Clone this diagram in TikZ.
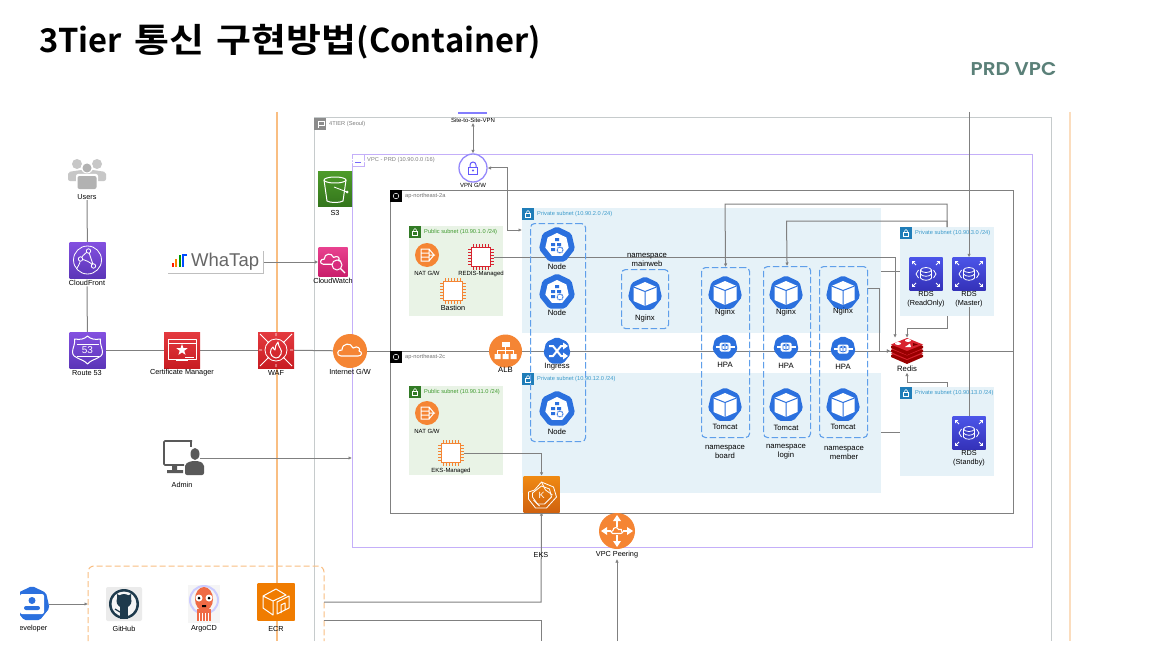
\documentclass[tikz,border=0pt]{standalone}
\usepackage{fontspec}
\setmainfont{Liberation Sans}
\newfontfamily\titlefont{Noto Sans CJK KR}[BoldFont={Noto Sans CJK KR Bold}]
\newfontfamily\hangulfont{Noto Sans CJK KR}[BoldFont={Noto Sans CJK KR Bold},FakeStretch=1.13]
\newfontfamily\vpcfont{Poppins}[BoldFont={Poppins SemiBold},FakeStretch=1.08]
\usetikzlibrary{arrows.meta,backgrounds,shapes.geometric}

\definecolor{linegray}{HTML}{808080}
\definecolor{tiergray}{HTML}{C6CBCC}
\definecolor{vpcpurple}{HTML}{C4AFF9}
\definecolor{orangeline}{HTML}{F9BE82}
\definecolor{paleorange}{HTML}{FBDDBE}
\definecolor{pubgreen}{HTML}{E9F3E6}
\definecolor{pubtext}{HTML}{3F9A2F}
\definecolor{privblue}{HTML}{E6F2F8}
\definecolor{privtext}{HTML}{3C9BCB}
\definecolor{privtag}{HTML}{1F7DB8}
\definecolor{kubeblue}{HTML}{2B70DE}
\definecolor{dashblue}{HTML}{5F9FEA}
\definecolor{awsorange}{HTML}{F58534}
\definecolor{awsred}{HTML}{D8232F}
\definecolor{rdsblue}{HTML}{3B3FC8}
\definecolor{cfpurple}{HTML}{6F42D0}
\definecolor{vpcgreen}{HTML}{5A8078}
\definecolor{ghnavy}{HTML}{1E3A4C}
\definecolor{argored}{HTML}{EF6B45}
\definecolor{cwpink}{HTML}{D92B7D}
\definecolor{cftop}{HTML}{8350E0}
\definecolor{cfbot}{HTML}{5B35B8}
\definecolor{redtop}{HTML}{E43A3F}
\definecolor{redbot}{HTML}{C81C22}
\definecolor{s3top}{HTML}{4D9A2A}
\definecolor{s3bot}{HTML}{34761C}
\definecolor{cwtop}{HTML}{E8418F}
\definecolor{cwbot}{HTML}{C91E6B}
\definecolor{rdstop}{HTML}{4B55E8}
\definecolor{rdsbot}{HTML}{3431B8}
\definecolor{ekstop}{HTML}{F08A12}
\definecolor{eksbot}{HTML}{D0620F}
\definecolor{ecrorange}{HTML}{F07C00}

\tikzset{
  link/.style={draw=linegray,line width=1pt},
  arrowlink/.style={link,-{Latex[length=3.5pt,width=3.5pt]}},
  bothlink/.style={link,{Latex[length=3.5pt,width=3.5pt]}-{Latex[length=3.5pt,width=3.5pt]}},
  zonebox/.style={draw=#1,line width=1pt,fill=none,anchor=north west,inner sep=0pt},
  subnetbox/.style={fill=#1,anchor=north west,inner sep=0pt},
  nsbox/.style={draw=dashblue,line width=1.1pt,dash pattern=on 6.5pt off 2.6pt,rounded corners=4pt,anchor=north west,inner sep=0pt},
  tagbox/.style={fill=#1,minimum size=12pt,inner sep=0pt,anchor=north west},
  zonetext/.style={text=#1,font=\fontsize{5.7}{6}\selectfont,anchor=west,inner sep=0pt},
  lbl/.style={font=\fontsize{7.3}{8.6}\selectfont,text=black,inner sep=0.5pt,align=center},
  tinylbl/.style={font=\fontsize{6}{7}\selectfont,text=black,inner sep=0.5pt,align=center},
  biglbl/.style={font=\fontsize{7.7}{9}\selectfont,text=black,inner sep=0.5pt,align=center},
  sqicon/.style 2 args={top color=#1,bottom color=#2,minimum size=36pt,inner sep=0pt},
  roundicon/.style={circle,fill=awsorange,inner sep=0pt,minimum size=#1},
  kubeicon/.style={regular polygon,regular polygon sides=7,fill=kubeblue,rounded corners=2pt,inner sep=0pt,minimum size=#1},
  plainicon/.style={inner sep=0pt,minimum size=#1},
  glyph/.style={draw=white,line width=0.8pt,fill=none,line join=round},
  pics/hepta/.style={code={\fill[white] (-90:#1) \foreach \a in {1,...,6}{ -- ({-90+\a*360/7}:#1)} -- cycle;}},
  pics/cube/.style={code={
    \fill[white] (0,-12) -- (11.5,-7) -- (11.5,7) -- (0,12) -- (-11.5,7) -- (-11.5,-7) -- cycle;
    \draw[kubeblue,line width=1pt] (-11.5,-7) -- (0,-2.5) -- (11.5,-7) (0,-2.5) -- (0,12);
  }},
  pics/kubenode/.style={code={
    \pic {hepta=12};
    \fill[kubeblue] (-2,-7) rectangle (2,-4) (-6,-2) rectangle (-2,1) (0,-2) rectangle (4,1) (-6,3) rectangle (-2,6);
    \draw[kubeblue,line width=1pt,dashed,dash pattern=on 1pt off 0.6pt] (3,5) circle [radius=3];
  }},
  pics/ingress/.style={code={
    \draw[white,line width=2pt] (-8,-5) -- (-4,-5) -- (4,5) -- (7,5) (-8,5) -- (-4,5) -- (4,-5) -- (7,-5);
    \fill[white] (6,-8.5) -- (11,-5) -- (6,-1.5) -- cycle (6,1.5) -- (11,5) -- (6,8.5) -- cycle;
  }},
  pics/hpa/.style={code={
    \fill[white,rounded corners=1.5pt] (-5.5,-4.5) rectangle (5.5,4.5);
    \fill[white] (-9.5,-1.2) rectangle (9.5,1.2);
    \draw[kubeblue,line width=0.7pt] (-3,-2) -- (0,-3) -- (3,-2) -- (3,2) -- (0,3) -- (-3,2) -- cycle (-3,-2) -- (0,-1) -- (3,-2) (0,-1) -- (0,3);
  }},
  pics/chip/.style={code={
    \draw[#1,line width=1pt,fill=white] (-9.5,-9.5) rectangle (9.5,9.5);
    \foreach \p in {-8,-5,-2,1,4,7.5}{
      \draw[#1,line width=0.7pt] (\p,-9.5) -- (\p,-13) (\p,9.5) -- (\p,13) (-9.5,\p) -- (-13,\p) (9.5,\p) -- (13,\p);
    }
  }},
  pics/natglyph/.style={code={
    \draw[white,line width=1pt] (-6,-6) rectangle (2,6) (2,-6) -- (7,0) -- (2,6) (-6,-2) -- (2,-2) (-6,2) -- (2,2) (2,0) -- (8,0);
  }},
  pics/cloudline/.style={code={
    \draw[white,line width=1.1pt,line join=round,scale=#1] (-9,5) .. controls (-14,5) and (-13,-2) .. (-8,-1) .. controls (-8,-8) and (1,-9) .. (3,-3) .. controls (8,-6) and (11,-2) .. (9,0) .. controls (13,1) and (12,5) .. (8,5) -- cycle;
  }},
  pics/padlock/.style={code={
    \draw[#1,line width=1pt,scale=0.95] (-5,-1) rectangle (5,7);
    \draw[#1,line width=1pt] (-3,-1) -- (-3,-3) arc [start angle=180,end angle=0,radius=3pt] -- (3,-1);
    \fill[#1] (0,2.5) circle [radius=1.2];
  }},
  pics/smalllock/.style={code={
    \draw[white,line width=0.5pt] (-2.5,-0.5) rectangle (2.5,3.5);
    \draw[white,line width=0.5pt] (-1.5,-0.5) -- (-1.5,-2) arc [start angle=180,end angle=0,radius=1.5pt] -- (1.5,-0.5);
  }},
  pics/albtree/.style={code={
    \fill[white] (-4,-9) rectangle (4,-4);
    \draw[white,line width=1pt] (0,-4) -- (0,-1) (-8,3) -- (-8,-1) -- (8,-1) -- (8,3) (0,-1) -- (0,3);
    \fill[white] (-11,3) rectangle (-5,8) (-3,3) rectangle (3,8) (5,3) rectangle (11,8);
  }},
  pics/rdsglyph/.style={code={
    \draw[white,line width=0.8pt,fill=rdsblue] (-5.5,-4) -- (-5.5,4) .. controls (-4,7) and (4,7) .. (5.5,4) -- (5.5,-4);
    \draw[white,line width=0.8pt] (0,-4) ellipse [x radius=5.5,y radius=2.5] (-5.5,0) .. controls (-4,3) and (4,3) .. (5.5,0);
    \draw[white,line width=0.8pt] (-7.5,-4) -- (-10,0) -- (-7.5,4) (7.5,-4) -- (10,0) -- (7.5,4);
    \draw[white,line width=0.8pt,-{Straight Barb[length=2pt,width=3.5pt]}] (-10,-9) -- (-14,-13);
    \draw[white,line width=0.8pt,-{Straight Barb[length=2pt,width=3.5pt]}] (10,-9) -- (14,-13);
    \draw[white,line width=0.8pt,-{Straight Barb[length=2pt,width=3.5pt]}] (-10,9) -- (-14,13);
    \draw[white,line width=0.8pt,-{Straight Barb[length=2pt,width=3.5pt]}] (10,9) -- (14,13);
  }},
  pics/redisglyph/.style={code={
    \fill[red!60!black] (-16,4) -- (0,-3) -- (16,4) -- (16,6) -- (0,13) -- (-16,6) -- cycle;
    \fill[awsred] (-16,2.5) -- (0,-4) -- (16,2.5) -- (0,9) -- cycle;
    \fill[red!60!black] (-16,-1) -- (0,-8) -- (16,-1) -- (16,1) -- (0,8) -- (-16,1) -- cycle;
    \fill[awsred] (-16,-2) -- (0,-8.5) -- (16,-2) -- (0,4.5) -- cycle;
    \fill[red!60!black] (-16,-5) -- (0,-12) -- (16,-5) -- (16,-3) -- (0,4) -- (-16,-3) -- cycle;
    \fill[awsred] (-16,-6.5) -- (0,-13) -- (16,-6.5) -- (0,0) -- cycle;
    \fill[white] (-9,-7.5) ellipse [x radius=3,y radius=1.5] (1,-10.5) ellipse [x radius=3,y radius=1.5];
    \fill[white] (-2,-4) -- (3,-7.5) -- (4,-4) -- cycle;
    \fill[red!50!black] (6,-8) -- (11,-6.5) -- (6,-5) -- cycle;
  }},
  pics/usersglyph/.style={code={
    \fill[black!22] (-10,-9) circle [radius=5] (10,-9) circle [radius=5];
    \fill[black!22,rounded corners=2pt] (-19,8) -- (-19,-1) -- (-6,-3) -- (6,-3) -- (19,-1) -- (19,8) -- cycle;
    \fill[white] (0,-5.5) circle [radius=6] ;
    \fill[black!30] (0,-5) circle [radius=4.5];
    \fill[white,rounded corners=2pt] (-11,17) -- (-11,1) -- (11,1) -- (11,17) -- cycle;
    \fill[black!30,rounded corners=2pt] (-9.5,16) -- (-9.5,3) -- (9.5,3) -- (9.5,16) -- cycle;
  }},
  pics/cfglyph/.style={code={
    \draw[glyph] (0,0) circle [radius=14];
    \draw[glyph] (-7,-1) .. controls (-4,-6) and (0,-8) .. (1,-9) (1,-9) -- (6,6) (-7,-1) .. controls (-2,0) and (3,2) .. (6,6) (-11,9) .. controls (-8,4) and (-7,2) .. (-7,-1);
    \fill[cfpurple] (-7,-1) circle [radius=2.2] (1,-9) circle [radius=2.2] (6,6) circle [radius=2.2];
    \draw[glyph] (-7,-1) circle [radius=2.2] (1,-9) circle [radius=2.2] (6,6) circle [radius=2.2];
  }},
  pics/r53glyph/.style={code={
    \draw[glyph,line width=1pt] (-13,-11) .. controls (-7,-10) and (-3,-11) .. (0,-14) .. controls (3,-11) and (7,-10) .. (13,-11) .. controls (12,-6) and (15,-2) .. (15,2) .. controls (15,9) and (5,8) .. (0,14) .. controls (-5,8) and (-15,9) .. (-15,2) .. controls (-15,-2) and (-12,-6) .. (-13,-11) -- cycle;
    \draw[glyph] (-11,-6) -- (11,-6) (-11,6) -- (11,6);
    \path (0,0) node[text=white,font=\fontsize{10}{10}\selectfont,inner sep=0pt] {53};
  }},
  pics/certglyph/.style={code={
    \draw[glyph] (-14,-11) rectangle (14,9) (-14,-7) -- (14,-7);
    \fill[white] (0,-6) \foreach \a in {1,...,9}{ -- ({-90+\a*36}:{(mod(\a,2)==1 ? 2.4 : 6)})} -- cycle;
    \draw[glyph] (-6,10) -- (6,10) (3,7) -- (12,7);
  }},
  pics/wafglyph/.style={code={
    \draw[glyph] (0,0) circle [radius=11];
    \draw[glyph] (-16,-16) -- (-7,-7) (16,-16) -- (7,-7) (-16,16) -- (-7,7) (16,16) -- (7,7) (-14,0) -- (-17,0) (14,0) -- (17,0) (0,-14) -- (0,-17) (0,14) -- (0,17);
    \draw[glyph,line width=1pt] (0,8) .. controls (-8,6) and (-6,-1) .. (-3,-3) .. controls (-2,-1) and (-2,0) .. (-1,0) .. controls (-1,-3) and (0,-6) .. (2,-8) .. controls (2,-3) and (7,0) .. (5,4) .. controls (4,7) and (2,8) .. (0,8) -- cycle;
  }},
  pics/s3glyph/.style={code={
    \draw[glyph,line width=1pt] (-11,-9) -- (-8,12) .. controls (-5,14) and (5,14) .. (8,12) -- (11,-9);
    \draw[glyph,line width=1pt] (0,-9) ellipse [x radius=11,y radius=3];
    \draw[glyph] (-1,-2) -- (12,3);
    \fill[white] (12,3) circle [radius=1.5];
  }},
  pics/cwglyph/.style={code={
    \pic[scale=0.85] at (-2,-2) {cloudline=1};
    \draw[fill=cwpink,draw=white,line width=1pt] (4,3) circle [radius=5];
    \draw[white,line width=1.3pt] (7.5,6.5) -- (12,11);
  }},
  pics/peerglyph/.style={code={
    \pic at (0,0) {cloudline=0.5};
    \fill[white] (0,-16) -- (-4,-10) -- (4,-10) -- cycle (0,16) -- (-4,10) -- (4,10) -- cycle (-16,0) -- (-10,-4) -- (-10,4) -- cycle (16,0) -- (10,-4) -- (10,4) -- cycle;
    \draw[white,line width=1.2pt] (0,-10) -- (0,-4) (0,10) -- (0,4) (-10,0) -- (-6,0) (10,0) -- (6,0);
  }},
  pics/eksglyph/.style={code={
    \draw[glyph] (-7,-4) -- (0,-12) -- (12,-7) -- (15,3) -- (5,14) -- (-6,14) -- (-13,5) -- (-13,-2) -- cycle;
    \draw[glyph] (0,-12) -- (4,-4) -- (11,1) (-8,6) -- (-2,12);
    \draw[glyph] (0,-8) -- (8,-5) -- (10,3) -- (3,10) -- (-4,10) -- (-9,3) -- (-9,-1) -- cycle;
    \path (0,1) node[text=white,font=\fontsize{9}{9}\selectfont,inner sep=0pt] {K};
  }},
  pics/ecrglyph/.style={code={
    \draw[glyph,line width=1pt] (-13,-6) -- (0,-13) -- (10,-7) -- (-3,-1) -- cycle (-13,-6) -- (-13,6) -- (-3,13) -- (-3,-1);
    \draw[glyph,line width=1pt] (1,0) -- (13,-6) -- (13,6) -- (1,12) -- cycle (5,11) -- (5,3) -- (9,1) -- (9,8);
  }},
  pics/adminglyph/.style={code={
    \draw[black!65,line width=1.6pt,rounded corners=1pt] (10,-17) -- (-18,-17) -- (-18,7) -- (2,7);
    \draw[black!65,line width=1.6pt] (-14,-17) -- (9,-17) -- (9,-11);
    \fill[black!65] (-10,7) rectangle (-5,13) (-15,12) rectangle (1,15);
    \fill[black!65] (13,-4) ellipse [x radius=4.5,y radius=6];
    \fill[black!65,rounded corners=2pt] (3,17) -- (3,6) -- (9,3) -- (17,3) -- (22,6) -- (22,17) -- cycle;
  }},
  pics/githubglyph/.style={code={
    \fill[black!8,rounded corners=2pt] (-18,-17) rectangle (18,17);
    \fill[ghnavy] (0,0) circle [radius=15];
    \fill[black!4] (0,0) circle [radius=12.5];
    \fill[ghnavy] (0,-3) ellipse [x radius=7.5,y radius=7];
    \fill[ghnavy] (-7,-10) -- (-3,-8) -- (-7,-5) -- cycle (7,-10) -- (3,-8) -- (7,-5) -- cycle;
    \fill[ghnavy] (-4,2) rectangle (4,15);
    \draw[ghnavy,line width=1.2pt] (-4,8) -- (-9,5);
  }},
  pics/argoglyph/.style={code={
    \fill[black!4] (-16,-19) rectangle (16,19);
    \draw[blue!20,line width=2pt] (0,-4) circle [radius=14];
    \fill[argored] (0,-5) ellipse [x radius=9,y radius=12];
    \fill[argored] (-7,5) rectangle (7,17);
    \fill[white] (-5,-6) circle [radius=3.5] (5,-6) circle [radius=3.5];
    \fill[black] (-5,-6) circle [radius=1.5] (5,-6) circle [radius=1.5] (-2,1) rectangle (2,3);
    \foreach \p in {-5,-2,1,4}{ \draw[white,line width=0.6pt] (\p,9) -- (\p,17); }
  }},
  pics/devglyph/.style={code={
    \fill[white,rounded corners=2pt] (-12,-10) rectangle (12,10);
    \fill[kubeblue] (0,-3.5) circle [radius=3.5];
    \fill[kubeblue,rounded corners=2pt] (-8,6) -- (-8,2) -- (8,2) -- (8,6) -- cycle;
  }},
}
\newcommand{\geticon}[4]{\node[#3] (#1) at (#2) {}; \pic at (#1) {#4};}

\begin{document}
\begin{tikzpicture}[x=1pt,y=-1pt]
\useasboundingbox (0,0) rectangle (1155,655);

% groups first, they stay under everything
\begin{scope}[on background layer]
\fill[white] (0,0) rectangle (1155,655);
\draw[orangeline,line width=1.4pt] (277,112) -- (277,641);
\draw[paleorange,line width=1.7pt] (1070,112) -- (1070,641);
\draw[tiergray,line width=1pt] (314,641) -- (314,118) -- (1051,118) -- (1051,641);
\draw[orangeline,line width=1pt,dash pattern=on 6pt off 3pt,rounded corners=6pt] (88,641) -- (88,566) -- (324,566) -- (324,641);
\node[zonebox=vpcpurple,minimum width=680pt,minimum height=393pt] (vpcprd) at (352,154) {};
\node[zonebox=linegray,minimum width=623pt,minimum height=161pt] (azone2a) at (390,190) {};
\node[zonebox=linegray,minimum width=623pt,minimum height=162pt] (azone2c) at (390,351) {};
\node[subnetbox=pubgreen,minimum width=94pt,minimum height=90pt] (pubweb) at (409,226) {};
\node[subnetbox=pubgreen,minimum width=94pt,minimum height=89pt] (pubeks) at (409,386) {};
\node[subnetbox=privblue,minimum width=359pt,minimum height=125pt] (privweb) at (522,208) {};
\node[subnetbox=privblue,minimum width=359pt,minimum height=120pt] (privwas) at (522,373) {};
\node[subnetbox=privblue,minimum width=94pt,minimum height=89pt] (privdba) at (900,227) {};
\node[subnetbox=privblue,minimum width=94pt,minimum height=89pt] (privdbc) at (900,387) {};
\end{scope}

% title
\node[anchor=base west,inner sep=0pt,font=\fontsize{33.6}{36}\selectfont\bfseries] (title) at (39,53) {{\fontsize{32.7}{36}\selectfont\titlefont 3Tier}\hspace{12pt}{\hangulfont 통신}\hspace{13pt}{\hangulfont 구현방법}{\fontsize{32.7}{36}\selectfont\titlefont (Container)}};
\node[text=vpcgreen,font=\fontsize{18.5}{20}\selectfont\vpcfont\bfseries,inner sep=0pt] (prdvpc) at (1013.5,69.5) {PRD VPC};

% zone tags and their texts
\node[tagbox=black!45] (tiertag) at (314,118) {};
\node[zonetext=black!50] (tiertext) at (329,124) {4TIER (Seoul)};
\draw[white,line width=0.5pt] (318,128) -- (318,121) -- (324,121) -- (324,125) -- (318,125);
\node[tagbox=white,draw=vpcpurple] (vpctag) at (352,154) {};
\pic[scale=0.55] at (358,160) {cloudline=1};
\draw[vpcpurple!60!blue,line width=0.4pt] (355,162) -- (361,162);
\node[zonetext=black!50] (vpctext) at (367,160) {VPC - PRD (10.90.0.0 /16)};
\node[tagbox=black] (tag2a) at (390,190) {};
\draw[white,line width=0.5pt] (396,196) circle [radius=2.8];
\node[zonetext=black!55] (text2a) at (405,196) {ap-northeast-2a};
\node[tagbox=black] (tag2c) at (390,351) {};
\draw[white,line width=0.5pt] (396,357) circle [radius=2.8];
\node[zonetext=black!55] (text2c) at (405,357) {ap-northeast-2c};

\node[tagbox=pubtext!80!black] (pubwebtag) at (409,226) {};
\pic at (415,232) {smalllock};
\node[zonetext=pubtext] (pubwebtext) at (424,232) {Public subnet (10.90.1.0 /24)};
\node[tagbox=pubtext!80!black] (pubekstag) at (409,386) {};
\pic at (415,392) {smalllock};
\node[zonetext=pubtext] (pubekstext) at (424,392) {Public subnet (10.90.11.0 /24)};
\node[tagbox=privtag] (privwebtag) at (522,208) {};
\pic at (528,214) {smalllock};
\node[zonetext=privtext] (privwebtext) at (537,214) {Private subnet (10.90.2.0 /24)};
\node[tagbox=privtag] (privwastag) at (522,373) {};
\pic at (528,379) {smalllock};
\node[zonetext=privtext] (privwastext) at (537,379) {Private subnet (10.90.12.0 /24)};
\node[tagbox=privtag] (privdbatag) at (900,227) {};
\pic at (906,233) {smalllock};
\node[zonetext=privtext] (privdbatext) at (915,233) {Private subnet (10.90.3.0 /24)};
\node[tagbox=privtag] (privdbctag) at (900,387) {};
\pic at (906,393) {smalllock};
\node[zonetext=privtext] (privdbctext) at (915,393) {Private subnet (10.90.13.0 /24)};

% namespace frames
\node[nsbox,minimum width=55pt,minimum height=218pt] (nodegroup) at (530,223) {};
\node[nsbox,minimum width=47pt,minimum height=59pt] (nsmain) at (621,269) {};
\node[nsbox,minimum width=48pt,minimum height=170pt] (nsboard) at (701,267) {};
\node[nsbox,minimum width=47pt,minimum height=171pt] (nslogin) at (763,266) {};
\node[nsbox,minimum width=48pt,minimum height=171pt] (nsmember) at (819,266) {};

% left column
\geticon{users}{87,173}{plainicon=36pt}{usersglyph}
\node[lbl] (usersname) at (87,197) {Users};
\geticon{cloudfront}{87.5,260}{sqicon={cftop}{cfbot}}{cfglyph}
\node[lbl] (cfname) at (87,283) {CloudFront};
\geticon{route53}{87.5,350}{sqicon={cftop}{cfbot}}{r53glyph}
\node[lbl] (r53name) at (87,373) {Route 53};
\geticon{certmgr}{182,350}{sqicon={redtop}{redbot}}{certglyph}
\node[lbl] (certname) at (182,373) {Certificate Manager};
\geticon{waf}{276,350}{sqicon={redtop}{redbot}}{wafglyph}
\node[lbl] (wafname) at (276,373) {WAF};
\geticon{igw}{350,351}{roundicon=34pt}{{cloudline=1}}
\node[lbl] (igwname) at (350,372) {Internet G/W};
\geticon{admin}{182,458}{plainicon=36pt}{adminglyph}
\node[lbl] (adminname) at (182,485) {Admin};

% whatap logo
\node[inner sep=0pt,minimum width=95pt,minimum height=23pt] (whatap) at (215.5,262) {};
\draw[black!25,line width=0.6pt] (168,273) -- (263,273) -- (263,251);
\fill[red!80!orange] (171.5,263) rectangle (173.5,267);
\fill[orange] (175,259) rectangle (177,267);
\fill[green!60!black] (178.5,255) rectangle (180.5,267);
\fill[blue!70!cyan] (182,254) rectangle (184,267);
\fill[blue!70!cyan] (182,254) rectangle (187,256);
\node[text=black!60,font=\fontsize{18.5}{20}\selectfont,inner sep=0pt,anchor=west] (whataptext) at (191,262) {WhaTap};

\geticon{s3}{335,189}{sqicon={s3top}{s3bot},minimum size=34pt}{s3glyph}
\node[lbl] (s3name) at (335,213) {S3};
\geticon{cloudwatch}{333,262}{sqicon={cwtop}{cwbot},minimum size=29pt}{cwglyph}
\node[lbl] (cwname) at (333,281) {CloudWatch};

% vpn
\draw[vpcpurple!40!blue!70,line width=1.3pt] (458,113) -- (487,113);
\node[tinylbl] (s2svpn) at (473,120) {Site-to-Site-VPN};
\node[circle,draw=vpcpurple!70!blue!90,fill=white,line width=1.3pt,minimum size=28pt,inner sep=0pt] (vpngw) at (473,168) {};
\pic at (473,168) {padlock=vpcpurple!50!blue};
\node[tinylbl] (vpnname) at (473,185) {VPN G/W};

% public subnets
\geticon{natweb}{427,255}{roundicon=24pt}{natglyph}
\node[tinylbl] (natwebname) at (427,273) {NAT G/W};
\geticon{redischip}{481,257}{plainicon=26pt}{{chip=awsred}}
\node[tinylbl] (redischipname) at (481,273.5) {REDIS-Managed};
\geticon{bastion}{453,291}{plainicon=26pt}{{chip=awsorange}}
\node[lbl] (bastionname) at (453,308) {Bastion};
\geticon{nateks}{427,413}{roundicon=24pt}{natglyph}
\node[tinylbl] (natekname) at (427,431) {NAT G/W};
\geticon{ekschip}{451,453}{plainicon=26pt}{{chip=awsorange}}
\node[tinylbl] (ekschipname) at (451,471) {EKS-Managed};

% worker nodes
\geticon{nodeone}{557,245}{kubeicon=37pt}{kubenode}
\node[biglbl] (nodeonename) at (557,267) {Node};
\geticon{nodetwo}{557,292}{kubeicon=37pt}{kubenode}
\node[biglbl] (nodetwoname) at (557,313) {Node};
\geticon{ingress}{557,351}{kubeicon=28pt}{ingress}
\node[biglbl] (ingressname) at (557,367) {Ingress};
\geticon{nodethree}{557,409}{kubeicon=37pt}{kubenode}
\node[biglbl] (nodethreename) at (557,432) {Node};
\geticon{alb}{505.5,351}{roundicon=33pt}{albtree}
\node[biglbl] (albname) at (505.5,370) {ALB};

% namespaces
\node[biglbl] (mainlabel) at (647,260) {namespace\\mainweb};
\geticon{nginxmain}{645,294}{kubeicon=35pt}{cube}
\node[biglbl] (nginxmainname) at (645,319) {Nginx};
\geticon{nginxboard}{725,293}{kubeicon=35pt}{cube}
\node[biglbl] (nginxboardname) at (725,313) {Nginx};
\geticon{hpaboard}{725,347}{kubeicon=26pt}{hpa}
\node[biglbl] (hpaboardname) at (725,365) {HPA};
\geticon{tomcatboard}{725,405}{kubeicon=35pt}{cube}
\node[biglbl] (tomcatboardname) at (725,427) {Tomcat};
\node[biglbl] (boardlabel) at (725,452) {namespace\\board};
\geticon{nginxlogin}{786,293}{kubeicon=35pt}{cube}
\node[biglbl] (nginxloginname) at (786,313) {Nginx};
\geticon{hpalogin}{786,347}{kubeicon=26pt}{hpa}
\node[biglbl] (hpaloginname) at (786,366) {HPA};
\geticon{tomcatlogin}{786,405}{kubeicon=35pt}{cube}
\node[biglbl] (tomcatloginname) at (786,428) {Tomcat};
\node[biglbl] (loginlabel) at (786,452) {namespace\\login};
\geticon{nginxmember}{843,293}{kubeicon=35pt}{cube}
\node[biglbl] (nginxmembername) at (843,312) {Nginx};
\geticon{hpamember}{843,349}{kubeicon=26pt}{hpa}
\node[biglbl] (hpamembername) at (843,367) {HPA};
\geticon{tomcatmember}{843,405}{kubeicon=35pt}{cube}
\node[biglbl] (tomcatmembername) at (843,427) {Tomcat};
\node[biglbl] (memberlabel) at (844,453) {namespace\\member};

% data stores
\geticon{redis}{907,351}{plainicon=26pt,minimum width=33pt}{redisglyph}
\node[biglbl] (redisname) at (907,369) {Redis};
\geticon{rdsreadonly}{926,274}{sqicon={rdstop}{rdsbot},minimum size=33pt}{rdsglyph}
\node[lbl] (readonlyname) at (926,299) {RDS\\(ReadOnly)};
\geticon{rdsmaster}{969,274}{sqicon={rdstop}{rdsbot},minimum size=33pt}{rdsglyph}
\node[lbl] (mastername) at (969,299) {RDS\\(Master)};
\geticon{rdsstandby}{969,433}{sqicon={rdstop}{rdsbot},minimum size=33pt}{rdsglyph}
\node[lbl] (standbyname) at (969,458) {RDS\\(Standby)};

% eks, peering
\geticon{eks}{541.5,494}{sqicon={ekstop}{eksbot},minimum size=36pt}{eksglyph}
\node[lbl] (eksname) at (541,555) {EKS};
\geticon{peering}{617,531}{roundicon=36pt}{peerglyph}
\node[lbl] (peeringname) at (617,555) {VPC Peering};

% bottom row
\begin{scope}
\clip (20,580) rectangle (70,645);
\geticon{developer}{32,604}{kubeicon=36pt}{devglyph}
\node[lbl,anchor=east] (devname) at (48,629) {eveloper};
\end{scope}
\geticon{github}{124,604}{plainicon=36pt}{githubglyph}
\node[lbl] (githubname) at (124,629) {GitHub};
\geticon{argocd}{204,604}{plainicon=36pt}{argoglyph}
\node[lbl] (argoname) at (204,629) {ArgoCD};
\geticon{ecr}{276,602}{sqicon={ecrorange}{ecrorange},minimum size=37pt}{ecrglyph}
\node[lbl] (ecrname) at (276,629) {ECR};

% connectors
\coordinate (vpnturn) at (507,230);
\coordinate (redisturn) at (895,257);
\coordinate (memberturn) at (879,288);
\coordinate (boardturn) at (725,204);
\coordinate (loginturn) at (786.5,221);
\coordinate (rdsturn) at (907,328);
\coordinate (standbyturn) at (907,382);
\coordinate (subnetup) at (890,271);
\coordinate (subnetdown) at (890,432);
\coordinate (prdtop) at (969,112);
\coordinate (ecrtoeks) at (541,602);
\coordinate (ecrout) at (541,620);
\coordinate (ecrend) at (541,641);
\coordinate (peerend) at (617,641);
\coordinate (deventry) at (88,604);
\coordinate (dashedright) at (324,604);
\begin{scope}[on background layer]
\draw[link] (usersname) -- (cloudfront);
\draw[link] (cfname) -- (route53);
\draw[link] (route53) -- (certmgr);
\draw[link] (certmgr) -- (waf);
\draw[link] (waf) -- (igw);
\draw[link] (igw) -- (alb);
\draw[link] (alb) -- (ingress);
\draw[link] (ingress) -- (hpaboard.west |- ingress);
\draw[arrowlink] (hpamember.east |- redis) -- (redis.west);
\draw[link] (redis.east) -- (azone2c.north east);
\draw[arrowlink] (whatap) -- (cloudwatch);
\draw[arrowlink] (admin.east) -- (admin.east -| vpcprd.west);
\draw[arrowlink] (developer.east) -- (deventry);
\draw[bothlink] (s2svpn) -- (vpngw);
\draw[bothlink] (vpngw.east) -| (vpnturn) -- (vpnturn -| privweb.west);
\draw[arrowlink] (redischip.east) -- (redisturn) -- (redisturn |- redis.north);
\draw[arrowlink] (nsmember.east |- memberturn) -- (memberturn) -- (memberturn |- redis.west) -- (redis.west);
\draw[arrowlink] (privdba.north) |- (boardturn) -- (nsboard.north);
\draw[arrowlink] (privdba.north) |- (loginturn) -- (nslogin.north);
\draw[arrowlink] (privdba.south) |- (rdsturn) -- (redis.north);
\draw[arrowlink] (privdbc.north) |- (standbyturn) -- (redisname.south);
\draw[link] (subnetup -| privweb.east) -- (subnetup -| privdba.west);
\draw[link] (subnetdown -| privwas.east) -- (subnetdown -| privdbc.west);
\draw[arrowlink] (prdtop) -- (rdsmaster.north);
\draw[link] (mastername) -- (rdsstandby.north);
\draw[arrowlink] (ekschip.east) -| (eks.north);
\draw[arrowlink] (ecrtoeks -| dashedright) -- (ecrtoeks) -- (eks.south);
\draw[link] (ecrout -| dashedright) -- (ecrout) -- (ecrend);
\draw[arrowlink] (peerend) -- (peeringname);
\end{scope}
\end{tikzpicture}
\end{document}
